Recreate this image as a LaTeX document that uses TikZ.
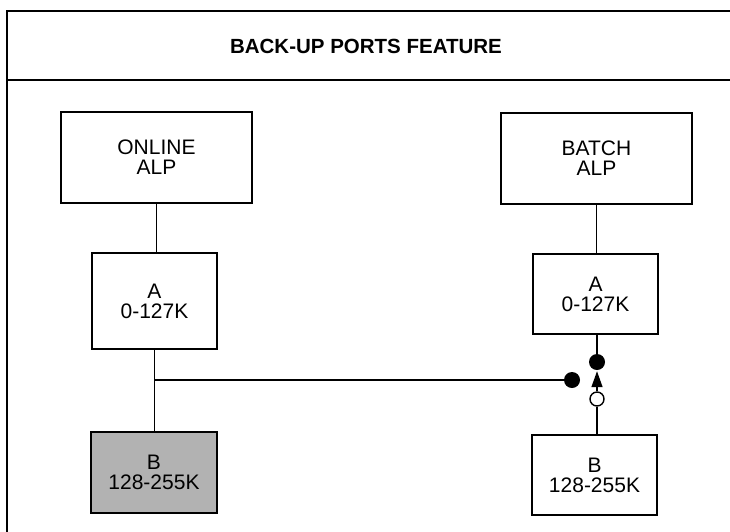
\documentclass[tikz,border=0pt]{standalone}
\usepackage{fontspec}
\setmainfont{Liberation Sans}
\usetikzlibrary{arrows.meta}
\begin{document}
\begin{tikzpicture}[x=1pt,y=-1pt,
  frame/.style={line width=2.6pt},
  box/.style={draw,line width=2.2pt,rectangle,inner sep=0pt,align=center,
    font=\fontsize{21}{20}\selectfont},
  conn/.style={line width=1.4pt},
  bigdot/.style={circle,fill=black,inner sep=0pt,minimum size=16pt},
  opendot/.style={circle,draw,line width=1.4pt,fill=white,inner sep=0pt,minimum size=14pt},
  title/.style={font=\bfseries\fontsize{20.5}{20}\selectfont}]
\useasboundingbox (0,0) rectangle (730,531);
\clip (0,0) rectangle (730,531);
% frame
\draw[frame] (740,11) -- (7,11) -- (7,540);
\draw[frame] (7,80) -- (740,80);
\node[title] (ttl) at (366,46) {BACK-UP PORTS FEATURE};
% boxes
\node[box,minimum width=191pt,minimum height=91pt] (onl) at (156.5,157.5) {ONLINE\\ALP};
\node[box,minimum width=191pt,minimum height=91pt] (bat) at (596.5,158.5) {BATCH\\ALP};
\node[box,minimum width=125pt,minimum height=96pt] (al) at (154.5,301) {A\\0-127K};
\node[box,minimum width=125pt,minimum height=80pt] (ar) at (595.5,294) {A\\0-127K};
\node[box,fill=black!30,minimum width=126pt,minimum height=81pt] (bl) at (154,472.5) {B\\128-255K};
\node[box,minimum width=125pt,minimum height=80pt] (br) at (594.5,475) {B\\128-255K};
% dots
\node[bigdot] (up) at (597,362) {};
\node[bigdot] (lf) at (572,380) {};
\node[opendot] (op) at (597,399) {};
\coordinate (j) at (al.south |- lf);
% connectors
\draw[conn] (onl.south) -- (onl.south |- al.north);
\draw[conn] (bat.south) -- (bat.south |- ar.north);
\draw[conn] (al.south) -- (j) -- (al.south |- bl.north);
\draw[conn] (j) -- (lf.west);
\draw[conn] (ar.south -| up) -- (up.north);
\draw[conn] (op.south) -- (op.south |- br.north);
\draw[conn,-{Triangle[length=16pt,width=11pt]}] (op.north) -- ([yshift=-1pt]up.south);
\end{tikzpicture}
\end{document}
